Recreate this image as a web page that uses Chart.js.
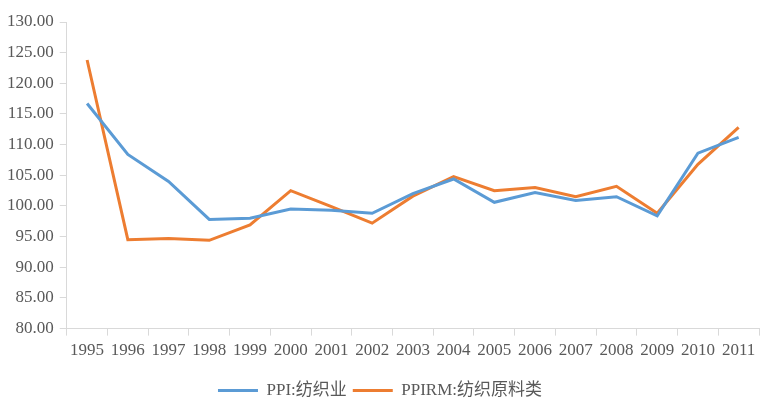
<!DOCTYPE html>
<html>
<head>
<meta charset="utf-8">
<script src="https://cdn.jsdelivr.net/npm/chart.js@4"></script>
<style>
  html, body { margin: 0; padding: 0; background: #fff; }
  #wrap { width: 770px; height: 413px; }
</style>
</head>
<body>
<div id="wrap"><canvas id="LineChart"></canvas></div>
<script>
var years = ['1995', '1996', '1997', '1998', '1999', '2000', '2001', '2002', '2003',
    '2004', '2005', '2006', '2007', '2008', '2009', '2010', '2011'];
var ppiTextile = [116.7, 108.4, 104.0, 97.8, 98.0, 99.5, 99.3, 98.8, 102.0,
    104.4, 100.6, 102.2, 100.9, 101.5, 98.4, 108.6, 111.2];
var ppirmTextile = [123.8, 94.5, 94.7, 94.4, 96.9, 102.5, 99.9, 97.2, 101.6,
    104.8, 102.5, 103.0, 101.5, 103.2, 98.8, 106.8, 112.8];
var seriesNames = ['PPI:纺织业', 'PPIRM:纺织原料类'];
var lineColors = ["#5b9bd5", "#ed7d31"];

var fontFamily = "'Liberation Serif', 'Noto Sans CJK SC', serif";
var axisColor = "#d9d9d9";

new Chart("LineChart", {
    type: "line",
    data: {
        labels: years,
        datasets: [{
            label: seriesNames[0],
            data: ppiTextile,
            borderColor: lineColors[0],
            backgroundColor: lineColors[0],
            borderWidth: 3,
            pointRadius: 0,
            tension: 0
        }, {
            label: seriesNames[1],
            data: ppirmTextile,
            borderColor: lineColors[1],
            backgroundColor: lineColors[1],
            borderWidth: 3,
            pointRadius: 0,
            tension: 0
        }]
    },
    options: {
        responsive: true,
        maintainAspectRatio: false,
        animation: false,
        layout: { padding: { top: 22, right: 11, left: 1, bottom: 4 } },
        scales: {
            x: {
                offset: true,
                grid: {
                    offset: true,
                    drawOnChartArea: false,
                    color: axisColor,
                    tickLength: 7
                },
                border: { color: axisColor },
                ticks: {
                    color: "#595959",
                    font: { family: fontFamily, size: 17 },
                    maxRotation: 0,
                    autoSkip: false,
                    padding: 5
                },
                // extra room between the year labels and the legend
                afterFit: function (axis) { axis.height += 10; }
            },
            y: {
                min: 80,
                max: 130,
                grid: {
                    drawOnChartArea: false,
                    color: axisColor,
                    tickLength: 7
                },
                border: { color: axisColor },
                ticks: {
                    stepSize: 5,
                    color: "#595959",
                    font: { family: fontFamily, size: 17 },
                    padding: 6,
                    callback: function (v) { return v.toFixed(2); }
                }
            }
        },
        plugins: {
            legend: {
                position: "bottom",
                labels: {
                    usePointStyle: true,
                    pointStyle: "line",
                    pointStyleWidth: 40,
                    boxWidth: 40,
                    boxHeight: 3,
                    color: "#595959",
                    font: { family: fontFamily, size: 17 },
                    padding: 6
                }
            },
            tooltip: { enabled: false }
        }
    }
});
</script>
</body>
</html>
